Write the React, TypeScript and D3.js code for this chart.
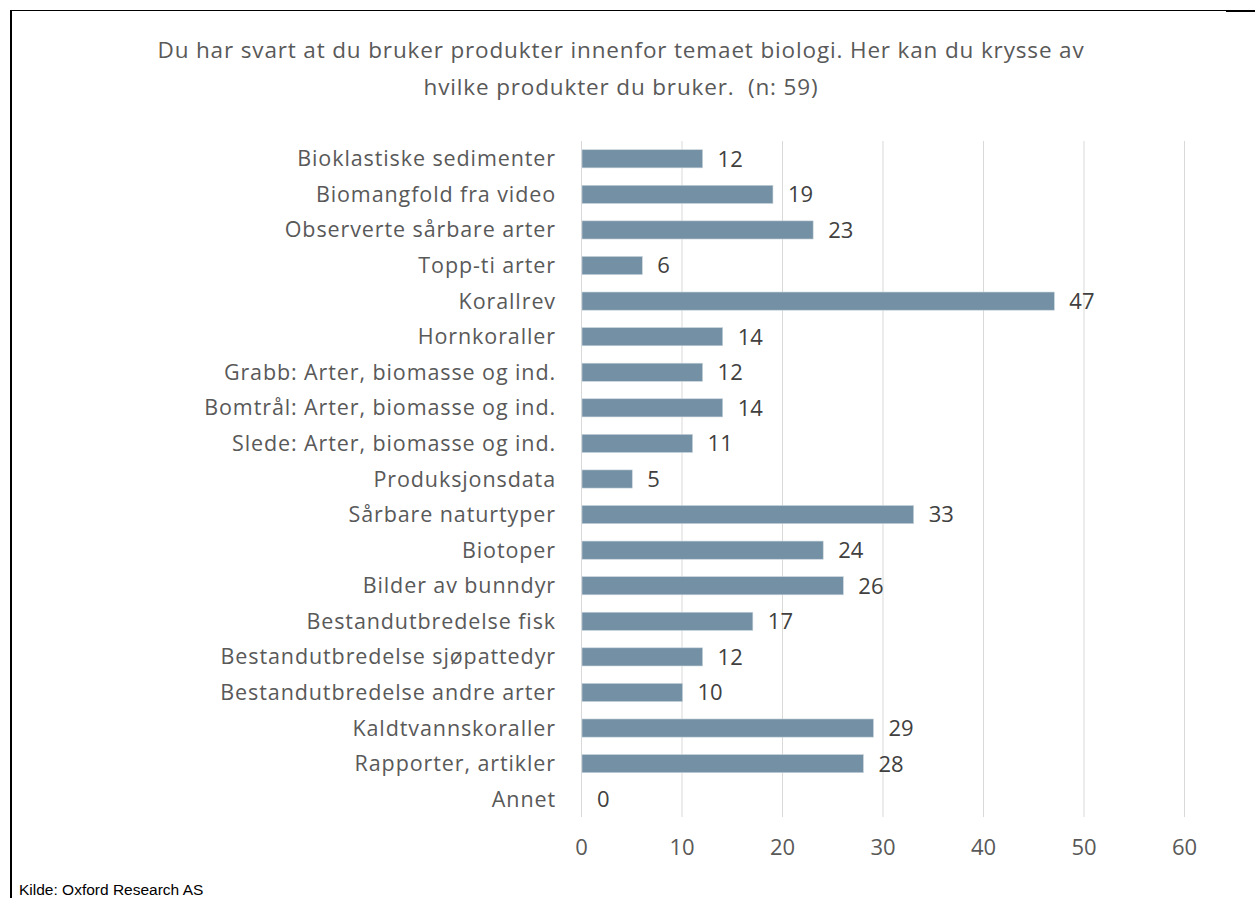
import React, { useEffect, useRef } from "react";
import * as d3 from "d3";

const categories = [
  "Bioklastiske sedimenter",
  "Biomangfold fra video",
  "Observerte sårbare arter",
  "Topp-ti arter",
  "Korallrev",
  "Hornkoraller",
  "Grabb: Arter, biomasse og ind.",
  "Bomtrål: Arter, biomasse og ind.",
  "Slede: Arter, biomasse og ind.",
  "Produksjonsdata",
  "Sårbare naturtyper",
  "Biotoper",
  "Bilder av bunndyr",
  "Bestandutbredelse fisk",
  "Bestandutbredelse sjøpattedyr",
  "Bestandutbredelse andre arter",
  "Kaldtvannskoraller",
  "Rapporter, artikler",
  "Annet",
];
const counts = [12, 19, 23, 6, 47, 14, 12, 14, 11, 5, 33, 24, 26, 17, 12, 10, 29, 28, 0];
const xTicks = [0, 10, 20, 30, 40, 50, 60];
const titleLines = [
  "Du har svart at du bruker produkter innenfor temaet biologi. Her kan du krysse av",
  "hvilke produkter du bruker.  (n: 59)",
];

export default function App() {
  const svgRef = useRef<SVGSVGElement>(null);

  useEffect(() => {
    const width = 1255;
    const height = 898;
    const svg = d3.select(svgRef.current).attr("width", width).attr("height", height);
    svg.selectAll("*").remove();

    const font = "'Open Sans', 'Noto Sans', sans-serif";

    // frame lines
    svg.append("line").attr("x1", 10).attr("x2", 1226).attr("y1", 10.5).attr("y2", 10.5)
      .attr("stroke", "#000").attr("stroke-width", 1);
    svg.append("line").attr("x1", 1226).attr("x2", 1255).attr("y1", 11).attr("y2", 11)
      .attr("stroke", "#000").attr("stroke-width", 2);
    svg.append("line").attr("x1", 11).attr("x2", 11).attr("y1", 10).attr("y2", 898)
      .attr("stroke", "#000").attr("stroke-width", 2);

    // title
    svg.append("g").selectAll("text").data(titleLines).join("text")
      .attr("x", 621).attr("y", (d, i) => 58 + i * 37)
      .attr("text-anchor", "middle")
      .attr("font-family", font).attr("font-size", 22.5).attr("fill", "#595959")
      .attr("letter-spacing", 0.85)
      .style("white-space", "pre")
      .text(d => d);

    const x = d3.scaleLinear().domain([0, 60]).range([581, 1184]);
    const y = d3.scaleBand().domain(categories).range([141, 817]).paddingInner(0.49).paddingOuter(0.245);

    // gridlines
    svg.append("g").selectAll("line").data(xTicks).join("line")
      .attr("x1", d => x(d) + 0.5).attr("x2", d => x(d) + 0.5)
      .attr("y1", 141).attr("y2", 817)
      .attr("stroke", "#d9d9d9").attr("stroke-width", 1);

    // x tick labels
    const xAxis = d3.axisBottom(x).tickValues(xTicks).tickSize(0).tickPadding(0);
    const gx = svg.append("g").attr("transform", "translate(0,855)").call(xAxis);
    gx.select(".domain").remove();
    gx.selectAll("text").attr("font-family", font).attr("font-size", 22)
      .attr("fill", "#595959").attr("dy", 0).attr("y", 0);

    // y labels
    const yAxis = d3.axisLeft(y).tickSize(0).tickPadding(25);
    const gy = svg.append("g").attr("transform", "translate(581,0)").call(yAxis);
    gy.select(".domain").remove();
    gy.selectAll("text").attr("font-family", font).attr("font-size", 21.5).attr("fill", "#595959")
      .attr("letter-spacing", 0.9).attr("dy", "0.35em");

    // bars
    const rows = categories.map((c, i) => ({ c, v: counts[i] }));
    svg.append("g").selectAll("rect").data(rows).join("rect")
      .attr("x", x(0) + 1).attr("y", d => y(d.c)!)
      .attr("width", d => Math.max(0, x(d.v) - x(0)))
      .attr("height", y.bandwidth())
      .attr("fill", "#7390a4").attr("stroke", "#c9d4dc").attr("stroke-width", 0.6);

    // value labels
    svg.append("g").selectAll("text").data(rows).join("text")
      .attr("x", d => x(d.v) + 16).attr("y", d => y(d.c)! + y.bandwidth() / 2)
      .attr("dy", "0.36em")
      .attr("font-family", font).attr("font-size", 22).attr("fill", "#404040")
      .text(d => d.v);

    // source
    svg.append("text").attr("x", 19).attr("y", 895)
      .attr("font-family", "'Liberation Sans', Arial, sans-serif").attr("font-size", 15.5)
      .attr("fill", "#000").text("Kilde: Oxford Research AS");
  }, []);

  return (
    <div style={{ position: "absolute", left: 0, top: 0 }}>
      <svg ref={svgRef} style={{ display: "block", background: "#fff" }}></svg>
    </div>
  );
}
